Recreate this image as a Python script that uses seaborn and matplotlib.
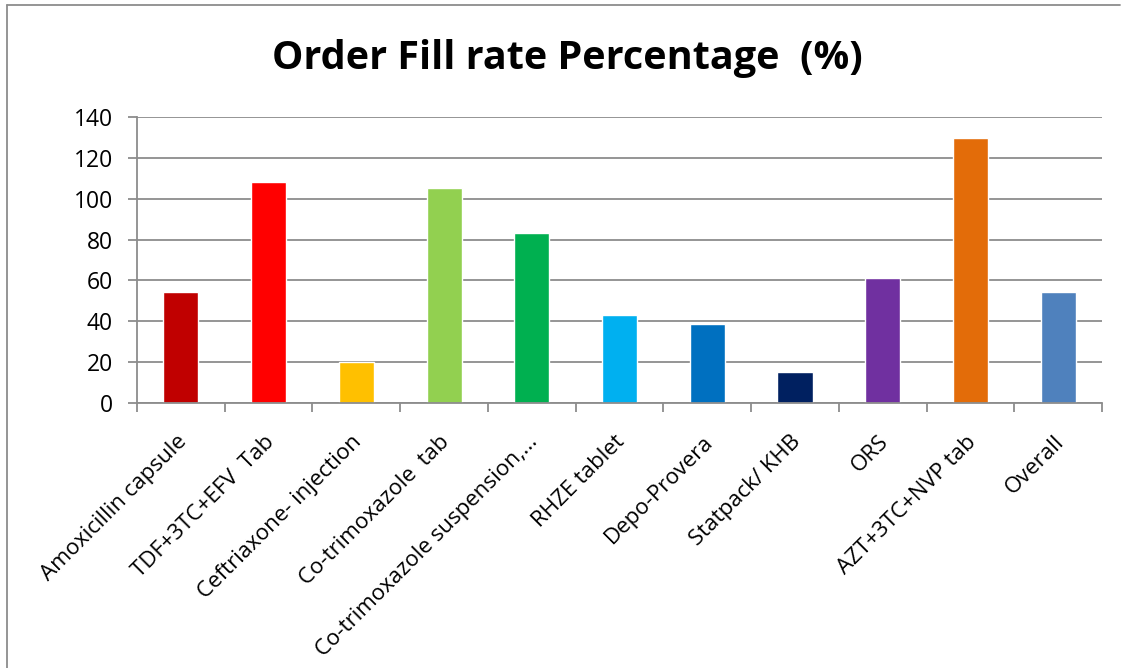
import matplotlib
matplotlib.use("Agg")
import matplotlib.pyplot as plt
from matplotlib.lines import Line2D
from matplotlib.ticker import FixedLocator
from matplotlib.transforms import ScaledTranslation
import seaborn as sns
import pandas as pd

# Order fill rate (%) per product
products = [
    "Amoxicillin capsule",
    "TDF+3TC+EFV  Tab",
    "Ceftriaxone- injection",
    "Co-trimoxazole  tab",
    "Co-trimoxazole suspension,...",
    "RHZE tablet",
    "Depo-Provera",
    "Statpack/ KHB",
    "ORS",
    "AZT+3TC+NVP tab",
    "Overall",
]
fill_rate = [54.5, 108, 20, 105, 83, 43, 38.5, 15.5, 61, 129.5, 54.5]
bar_colors = [
    "#C00000", "#FF0000", "#FFC000", "#92D050", "#00B050", "#00B0F0",
    "#0070C0", "#002060", "#7030A0", "#E36C09", "#4F81BD",
]
y_ticks = [0, 20, 40, 60, 80, 100, 120, 140]

df = pd.DataFrame({"product": products, "rate": fill_rate})

sns.set_theme(style="white")
plt.rcParams["font.family"] = ["Open Sans", "DejaVu Sans"]

W, H = 1125, 668
fig = plt.figure(figsize=(W / 100, H / 100), dpi=100)
ax = fig.add_axes([137 / W, 1 - 403.3 / H, (1102 - 137) / W, (403.3 - 116.7) / H])

sns.barplot(data=df, x="product", y="rate", hue="product", palette=bar_colors,
            width=0.4, legend=False, ax=ax, saturation=1)

grid_c = "#8C8C8C"
ax.set_ylim(0, 140)
ax.set_xlim(-0.5, len(products) - 0.5)
ax.yaxis.set_major_locator(FixedLocator(y_ticks))
ax.yaxis.grid(True, color=grid_c, linewidth=1.3)
ax.set_axisbelow(True)
for s in ["top", "right"]:
    ax.spines[s].set_visible(False)
for s in ["left", "bottom"]:
    ax.spines[s].set_color(grid_c)
    ax.spines[s].set_linewidth(1.3)

ax.tick_params(axis="y", which="major", direction="out", length=6.5, width=1.3,
               color=grid_c, labelsize=16.5, pad=11, left=True,
               labelcolor="black")
ax.set_yticklabels([str(v) for v in y_ticks])

# category ticks sit between bars; labels at bar centres without marks
ax.xaxis.set_minor_locator(FixedLocator([i - 0.5 for i in range(len(products) + 1)]))
ax.tick_params(axis="x", which="minor", direction="out", length=6.5, width=1.3,
               color=grid_c, bottom=True)
ax.tick_params(axis="x", which="major", length=0, labelsize=16, pad=0,
               labelcolor="black")
ax.set_xticks(range(len(products)))
ax.set_xticklabels(products, rotation=45, ha="right", va="top",
                   rotation_mode="anchor")
shift = ScaledTranslation(-5 / 100, -28 / 100, fig.dpi_scale_trans)
for lbl in ax.get_xticklabels():
    lbl.set_transform(lbl.get_transform() + shift)
ax.set_xlabel("")
ax.set_ylabel("")

fig.text(0.504, 1 - 59 / H, "Order Fill rate Percentage  (%)", ha="center",
         va="center", fontsize=28.5, fontweight="bold", color="black")

# chart frame
fig.add_artist(Line2D([7 / W, 7 / W], [0, 1 - 5 / H], transform=fig.transFigure,
                      color="#8C8C8C", linewidth=1.3))
fig.add_artist(Line2D([7 / W, 1120 / W], [1 - 5 / H, 1 - 5 / H],
                      transform=fig.transFigure, color="#8C8C8C", linewidth=1.3))

fig.savefig("out.png", dpi=100, facecolor="white")
